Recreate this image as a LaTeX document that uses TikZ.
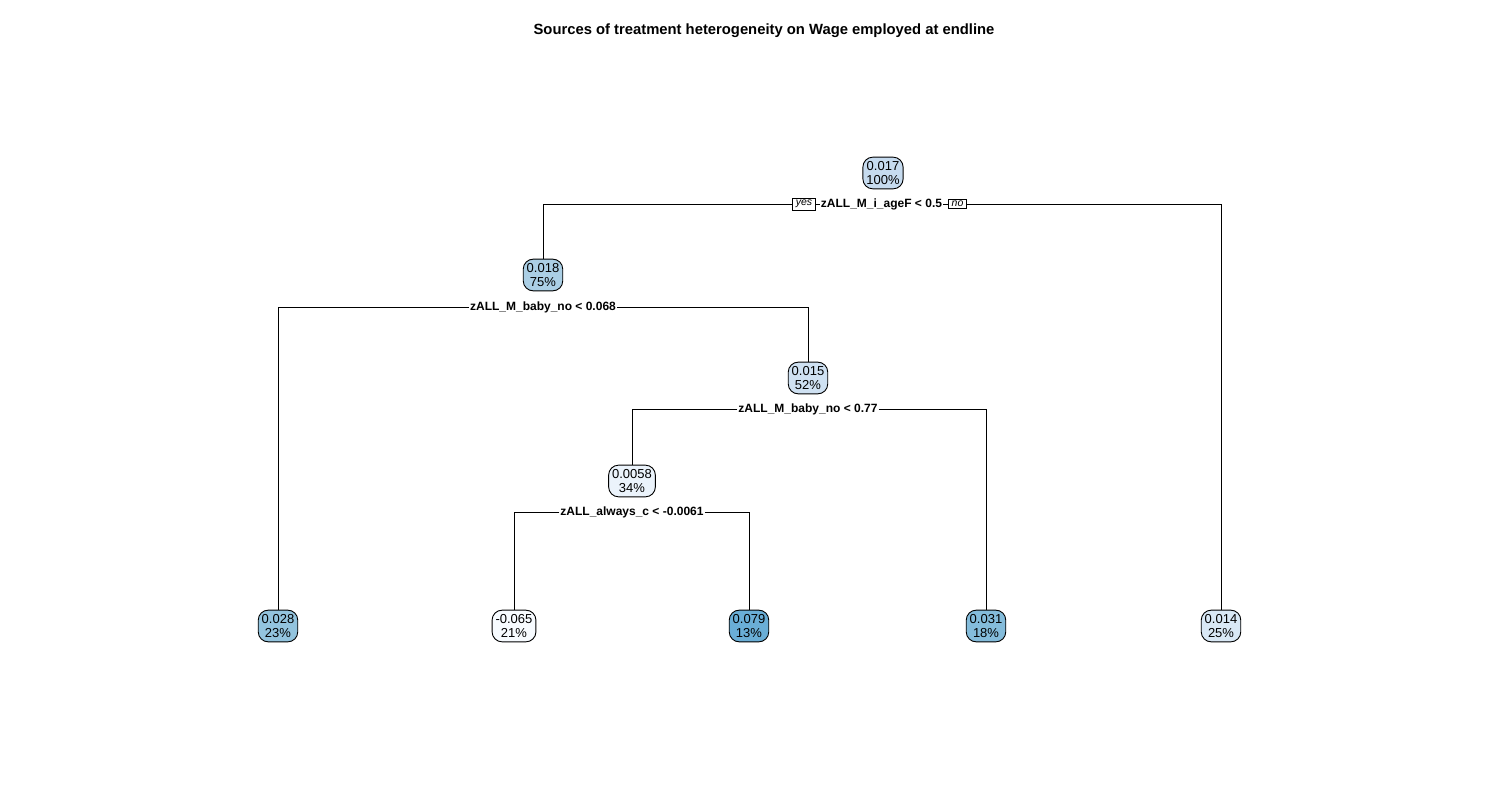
\documentclass[tikz,border=0pt]{standalone}
\usepackage{fontspec}
\setmainfont{Liberation Sans}
\usetikzlibrary{shapes.misc}
\definecolor{cRoot}{HTML}{C6DBEF}
\definecolor{cA}{HTML}{ABCFE5}
\definecolor{cB}{HTML}{CFE1F2}
\definecolor{cC}{HTML}{EBF3FB}
\definecolor{cL1}{HTML}{93C4DE}
\definecolor{cL2}{HTML}{F7FBFF}
\definecolor{cL3}{HTML}{6AAED6}
\definecolor{cL4}{HTML}{84BCDB}
\definecolor{cL5}{HTML}{D9E8F5}
\tikzset{
  treenode/.style={draw=black, line width=0.9pt, rounded corners=10pt, align=center,
    font=\fontsize{13}{14.5}\selectfont, inner xsep=3.5pt, inner ysep=4pt, text=black},
  splitlab/.style={font=\fontsize{12}{14}\selectfont\bfseries, inner sep=1pt, fill=white},
  yn/.style={draw=black, line width=0.8pt, font=\fontsize{10.5}{12}\selectfont\itshape, inner xsep=3pt, inner ysep=2pt, fill=white},
  branch/.style={line width=0.9pt, draw=black}
}
\begin{document}
\begin{tikzpicture}[x=1pt,y=-1pt]
\useasboundingbox[fill=white] (0,0) rectangle (1500,800);
\node[font=\fontsize{14.8}{17}\selectfont\bfseries] (title) at (764,31) {Sources of treatment heterogeneity on Wage employed at endline};

% internal nodes
\node[treenode, fill=cRoot] (n1) at (883,173) {0.017\\100\%};
\node[treenode, fill=cA] (n2) at (543,275) {0.018\\75\%};
\node[treenode, fill=cB] (n3) at (808,378) {0.015\\52\%};
\node[treenode, fill=cC] (n4) at (632,481) {0.0058\\34\%};

% leaves
\node[treenode, fill=cL1] (l1) at (278,626) {0.028\\23\%};
\node[treenode, fill=cL2] (l2) at (514,626) {-0.065\\21\%};
\node[treenode, fill=cL3] (l3) at (749,626) {0.079\\13\%};
\node[treenode, fill=cL4] (l4) at (986,626) {0.031\\18\%};
\node[treenode, fill=cL5] (l5) at (1221,626) {0.014\\25\%};

% split labels
\node[splitlab] (s1) at (881.5,204) {zALL\_M\_i\_ageF < 0.5};
\node[yn] (yes) at (804,204) {yes};
\node[yn] (no) at (957.5,204) {no};
\node[splitlab] (s2) at (543,307) {zALL\_M\_baby\_no < 0.068};
\node[splitlab] (s3) at (808,409) {zALL\_M\_baby\_no < 0.77};
\node[splitlab] (s4) at (632,512) {zALL\_always\_c < -0.0061};

% branches
\draw[branch] (yes.west) -| (n2.north);
\draw[branch] (yes.east) -- (s1.west);
\draw[branch] (s1.east) -- (no.west);
\draw[branch] (no.east) -| (l5.north);

\draw[branch] (s2.west) -| (l1.north);
\draw[branch] (s2.east) -| (n3.north);

\draw[branch] (s3.west) -| (n4.north);
\draw[branch] (s3.east) -| (l4.north);

\draw[branch] (s4.west) -| (l2.north);
\draw[branch] (s4.east) -| (l3.north);
\end{tikzpicture}
\end{document}
